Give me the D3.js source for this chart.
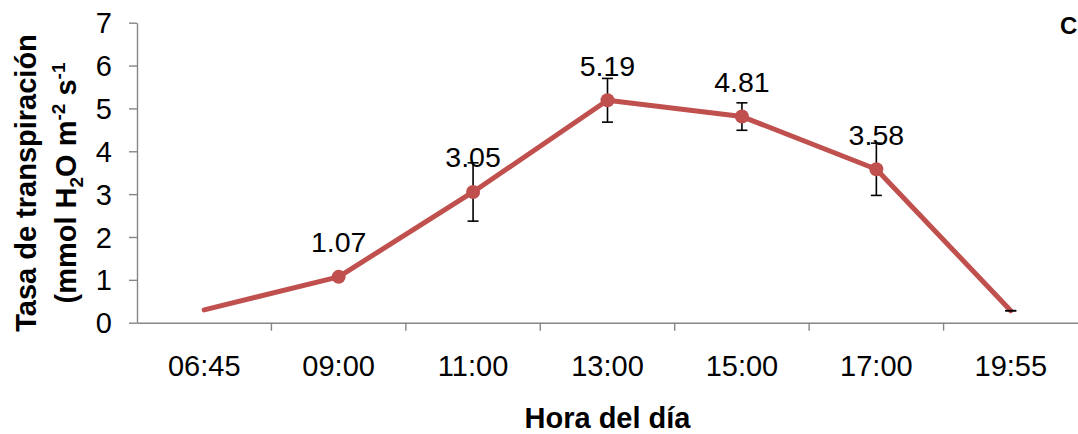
<!DOCTYPE html>
<html>
<head>
<meta charset="utf-8">
<script src="https://cdn.jsdelivr.net/npm/d3@7/dist/d3.min.js"></script>
<style>
  html, body { margin: 0; padding: 0; background: #fff; }
  svg { display: block; font-family: "Liberation Sans", Arial, sans-serif; }
</style>
</head>
<body>
<svg id="chart" width="1078" height="434"></svg>
<script>
// Transpiration rate through the day
const hours = ["06:45", "09:00", "11:00", "13:00", "15:00", "17:00", "19:55"];
const rates = [0.30, 1.07, 3.05, 5.19, 4.81, 3.58, 0.28];
const errors = [null, null, 0.68, 0.51, 0.32, 0.61, 0];
const showMarker = [false, true, true, true, true, true, false];
const showLabel = [false, true, true, true, true, true, false];
const yTicks = [0, 1, 2, 3, 4, 5, 6, 7];

const svg = d3.select("#chart");
const W = 1078, H = 434;
const margin = { left: 137, right: 0, top: 22.7, bottom: H - 322.7 };

const x = d3.scaleBand().domain(hours).range([margin.left, W - margin.right]).padding(0);
const y = d3.scaleLinear().domain([0, 7]).range([H - margin.bottom, margin.top]);

const axisColor = "#868686";
const fontFam = "'Liberation Sans', Arial, sans-serif";

// Y axis
const yAxis = svg.append("g")
  .attr("transform", `translate(${margin.left},0)`)
  .call(d3.axisLeft(y).tickValues(yTicks).tickSize(8).tickSizeOuter(0).tickPadding(17).tickFormat(d3.format("d")));
yAxis.attr("font-family", fontFam);
yAxis.selectAll("path, line").attr("stroke", axisColor).attr("stroke-width", 1.4);
yAxis.selectAll("text").attr("font-size", 29).attr("fill", "#000").attr("dy", "0.35em");

// X axis, with tick marks at the category boundaries
const xAxis = svg.append("g")
  .attr("transform", `translate(0,${y(0)})`)
  .call(d3.axisBottom(x).tickSize(0).tickSizeOuter(0).tickPadding(33));
xAxis.attr("font-family", fontFam);
xAxis.selectAll(".domain").attr("stroke", axisColor).attr("stroke-width", 1.4);
xAxis.selectAll("text").attr("font-size", 29).attr("fill", "#000");
xAxis.selectAll(".bound")
  .data(hours.slice(1))
  .enter().append("line")
  .attr("class", "bound")
  .attr("x1", d => x(d)).attr("x2", d => x(d))
  .attr("y1", 0).attr("y2", 8)
  .attr("stroke", axisColor).attr("stroke-width", 1.4);

const cx = d => x(d) + x.bandwidth() / 2;
const points = hours.map((h, i) => ({ h, v: rates[i], e: errors[i], m: showMarker[i], l: showLabel[i] }));

// Series line
svg.append("path")
  .datum(points)
  .attr("fill", "none")
  .attr("stroke", "#C0504D")
  .attr("stroke-width", 5)
  .attr("stroke-linejoin", "round")
  .attr("stroke-linecap", "round")
  .attr("d", d3.line().x(d => cx(d.h)).y(d => y(d.v)));

// Error bars
const eb = svg.append("g").attr("stroke", "#000").attr("stroke-width", 1.6);
points.filter(d => d.e !== null).forEach(d => {
  const xc = cx(d.h);
  const y1 = y(d.v + d.e), y2 = y(d.v - d.e);
  if (d.e > 0) eb.append("line").attr("x1", xc).attr("x2", xc).attr("y1", y1).attr("y2", y2);
  eb.append("line").attr("x1", xc - 5.5).attr("x2", xc + 5.5).attr("y1", y1).attr("y2", y1);
  eb.append("line").attr("x1", xc - 5.5).attr("x2", xc + 5.5).attr("y1", y2).attr("y2", y2);
});

// Markers
svg.append("g").selectAll("circle")
  .data(points.filter(d => d.m))
  .enter().append("circle")
  .attr("cx", d => cx(d.h)).attr("cy", d => y(d.v))
  .attr("r", 7).attr("fill", "#C0504D");

// Value labels
svg.append("g").selectAll("text")
  .data(points.filter(d => d.l))
  .enter().append("text")
  .attr("x", d => cx(d.h)).attr("y", d => y(d.v) - 24.5)
  .attr("text-anchor", "middle")
  .attr("font-size", 28.5)
  .attr("fill", "#000")
  .text(d => d.v.toFixed(2));

// Axis titles
svg.append("text")
  .attr("x", cx(hours[3])).attr("y", 428)
  .attr("text-anchor", "middle").attr("font-size", 29).attr("font-weight", "bold")
  .text("Hora del día");

const yt = svg.append("text")
  .attr("transform", "translate(0,183) rotate(-90)")
  .attr("text-anchor", "middle").attr("font-size", 29).attr("font-weight", "bold");
yt.append("tspan").attr("x", 0).attr("y", 36).text("Tasa de transpiración");
yt.append("tspan").attr("x", 0).attr("y", 76).text("(mmol H");
yt.append("tspan").attr("dy", 7).attr("font-size", 19).text("2");
yt.append("tspan").attr("dy", -7).text("O m");
yt.append("tspan").attr("dy", -11).attr("font-size", 19).text("-2");
yt.append("tspan").attr("dy", 11).text(" s");
yt.append("tspan").attr("dy", -11).attr("font-size", 19).text("-1");

// Panel letter
svg.append("text")
  .attr("x", 1060).attr("y", 34)
  .attr("text-anchor", "start").attr("font-size", 24).attr("font-weight", "bold")
  .text("C");
</script>
</body>
</html>
